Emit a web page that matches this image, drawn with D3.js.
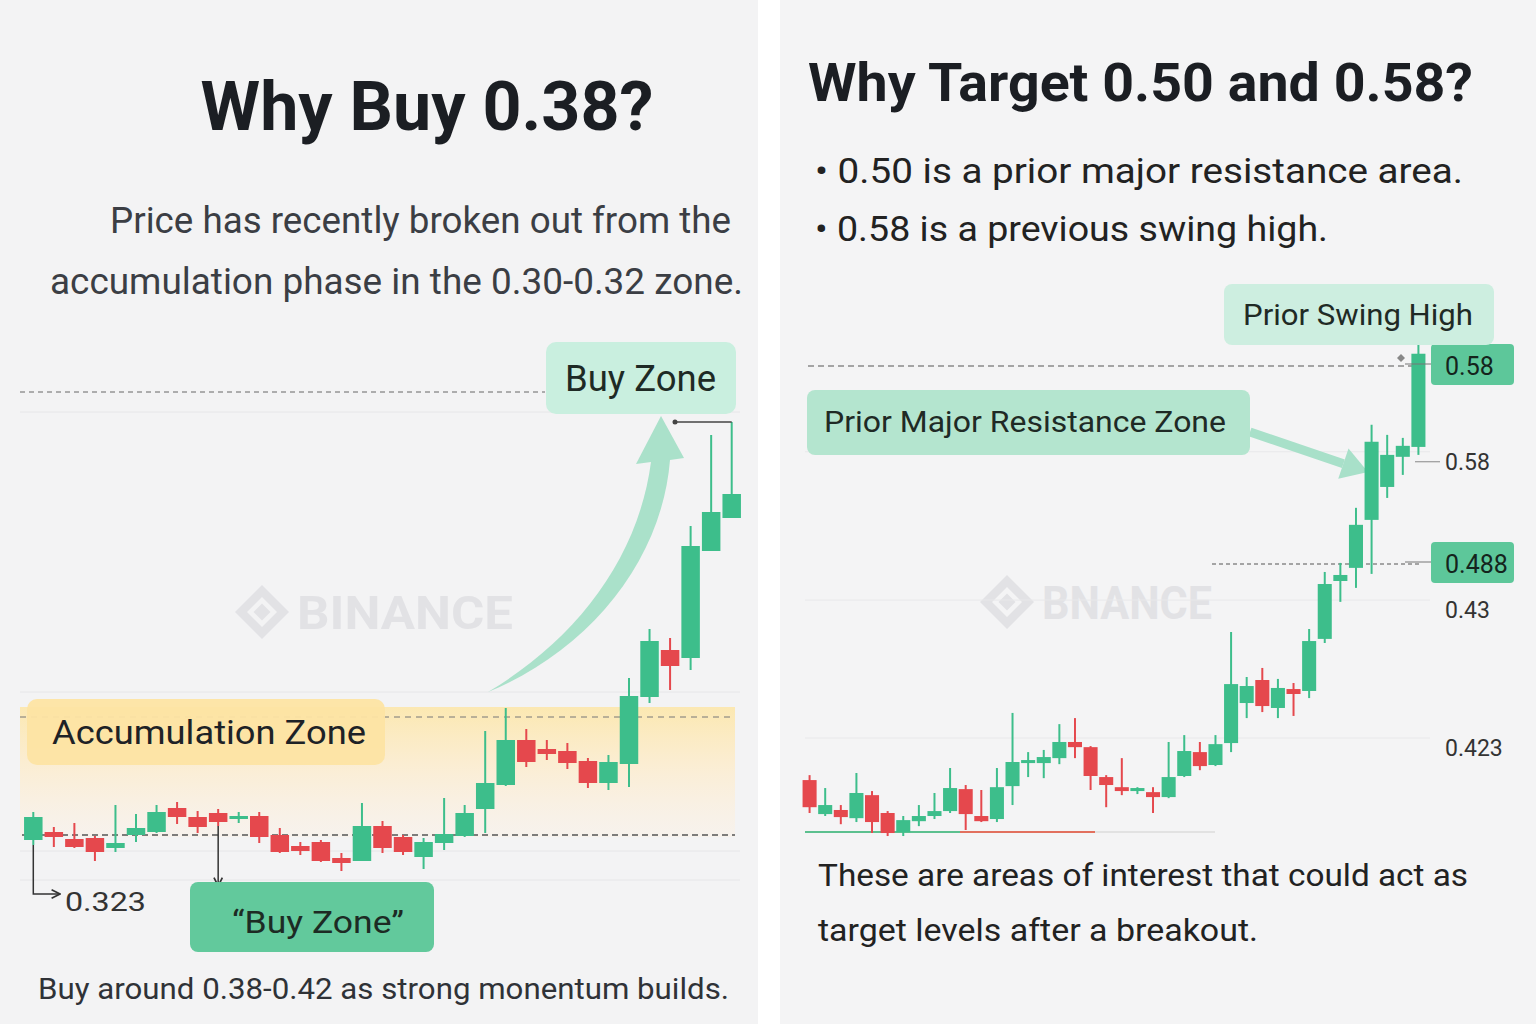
<!DOCTYPE html>
<html>
<head>
<meta charset="utf-8">
<script src="https://cdn.jsdelivr.net/npm/d3@7"></script>
<style>
  body { margin: 0; background: #fff; }
  text { font-family: Roboto, "Noto Sans", sans-serif; }
</style>
</head>
<body>
<script>
// ---- left chart: [open, high, low, close]
var leftCandles = [
  [0.3220, 0.3276, 0.3210, 0.3266], [0.3236, 0.3246, 0.3206, 0.3226], [0.3222, 0.3254, 0.3204, 0.3206],
  [0.3224, 0.3228, 0.3178, 0.3196], [0.3204, 0.3290, 0.3196, 0.3214], [0.3230, 0.3272, 0.3216, 0.3244],
  [0.3236, 0.3290, 0.3234, 0.3276], [0.3284, 0.3296, 0.3252, 0.3266], [0.3266, 0.3278, 0.3234, 0.3246],
  [0.3274, 0.3282, 0.3248, 0.3256], [0.3262, 0.3276, 0.3254, 0.3268], [0.3268, 0.3276, 0.3214, 0.3226],
  [0.3230, 0.3244, 0.3194, 0.3196], [0.3208, 0.3216, 0.3190, 0.3198], [0.3216, 0.3220, 0.3176, 0.3178],
  [0.3184, 0.3194, 0.3158, 0.3174], [0.3178, 0.3294, 0.3178, 0.3248], [0.3248, 0.3258, 0.3194, 0.3204],
  [0.3226, 0.3230, 0.3190, 0.3196], [0.3186, 0.3224, 0.3162, 0.3216], [0.3214, 0.3304, 0.3200, 0.3232],
  [0.3228, 0.3290, 0.3226, 0.3274], [0.3282, 0.3438, 0.3234, 0.3334], [0.3330, 0.3484, 0.3328, 0.3420],
  [0.3420, 0.3442, 0.3366, 0.3376], [0.3402, 0.3420, 0.3380, 0.3392], [0.3398, 0.3414, 0.3362, 0.3374],
  [0.3378, 0.3384, 0.3324, 0.3334], [0.3334, 0.3390, 0.3320, 0.3376], [0.3372, 0.3544, 0.3326, 0.3508],
  [0.3506, 0.3642, 0.3494, 0.3618], [0.3600, 0.3624, 0.3520, 0.3568], [0.3584, 0.3848, 0.3560, 0.3808],
  [0.3798, 0.4030, 0.3798, 0.3876], [0.3864, 0.4056, 0.3864, 0.3912]
];
var leftBuyLevel = 0.4116;
var leftAccumTop = 0.3466;
var leftBase = 0.323;
var leftAccumBand = [0.3226, 0.3486];

// ---- right chart: [open, high, low, close]
var rightCandles = [
  [0.3876, 0.3899, 0.3723, 0.3750], [0.3718, 0.3839, 0.3709, 0.3760], [0.3737, 0.3760, 0.3671, 0.3704],
  [0.3699, 0.3909, 0.3681, 0.3816], [0.3806, 0.3825, 0.3630, 0.3681], [0.3723, 0.3732, 0.3616, 0.3630],
  [0.3634, 0.3709, 0.3616, 0.3690], [0.3685, 0.3760, 0.3662, 0.3709], [0.3709, 0.3816, 0.3695, 0.3732],
  [0.3732, 0.3932, 0.3723, 0.3839], [0.3834, 0.3853, 0.3644, 0.3718], [0.3709, 0.3830, 0.3681, 0.3685],
  [0.3695, 0.3932, 0.3681, 0.3843], [0.3848, 0.4188, 0.3760, 0.3960], [0.3955, 0.4006, 0.3890, 0.3969],
  [0.3955, 0.4016, 0.3885, 0.3983], [0.3978, 0.4136, 0.3950, 0.4053], [0.4053, 0.4164, 0.3978, 0.4029],
  [0.4029, 0.4034, 0.3830, 0.3895], [0.3890, 0.3899, 0.3750, 0.3853], [0.3843, 0.3978, 0.3806, 0.3825],
  [0.3825, 0.3843, 0.3811, 0.3839], [0.3820, 0.3843, 0.3723, 0.3797], [0.3797, 0.4053, 0.3792, 0.3890],
  [0.3895, 0.4085, 0.3890, 0.4011], [0.4006, 0.4053, 0.3922, 0.3941], [0.3946, 0.4085, 0.3941, 0.4043],
  [0.4048, 0.4564, 0.4006, 0.4322], [0.4234, 0.4355, 0.4164, 0.4313], [0.4341, 0.4397, 0.4192, 0.4220],
  [0.4211, 0.4346, 0.4164, 0.4304], [0.4299, 0.4327, 0.4174, 0.4276], [0.4290, 0.4578, 0.4257, 0.4522],
  [0.4532, 0.4843, 0.4513, 0.4787], [0.4801, 0.4885, 0.4704, 0.4829], [0.4862, 0.5141, 0.4769, 0.5062],
  [0.5085, 0.5527, 0.4834, 0.5448], [0.5238, 0.5480, 0.5187, 0.5387], [0.5378, 0.5466, 0.5294, 0.5429],
  [0.5424, 0.5908, 0.5387, 0.5857]
];
var rightLevels = [0.58, 0.488];
var rightLevelLabels = ["0.58", "0.488"];
var rightTickValues = [0.5355, 0.4666, 0.4025];
var rightTickLabels = ["0.58", "0.43", "0.423"];

var GREEN = "#3dbe8b", RED = "#e5484d";

var svg = d3.select("body").append("svg")
  .attr("width", 1536).attr("height", 1024);

var defs = svg.append("defs");
var grad = defs.append("linearGradient").attr("id", "accum").attr("x1", 0).attr("x2", 0).attr("y1", 0).attr("y2", 1);
grad.append("stop").attr("offset", "0%").attr("stop-color", "#fde6a6").attr("stop-opacity", 0.85);
grad.append("stop").attr("offset", "45%").attr("stop-color", "#fdeccb").attr("stop-opacity", 0.8);
grad.append("stop").attr("offset", "100%").attr("stop-color", "#fbf1e6").attr("stop-opacity", 0.5);

defs.append("marker").attr("id", "arr")
  .attr("viewBox", "0 0 10 10").attr("refX", 9).attr("refY", 5)
  .attr("markerWidth", 7).attr("markerHeight", 7).attr("orient", "auto")
  .append("path").attr("d", "M1,1 L9,5 L1,9").attr("fill", "none").attr("stroke", "#333").attr("stroke-width", 1.6);

svg.append("rect").attr("width", 1536).attr("height", 1024).attr("fill", "#ffffff");
svg.append("rect").attr("x", 0).attr("width", 758).attr("height", 1024).attr("fill", "#f3f3f4");
svg.append("rect").attr("x", 780).attr("width", 756).attr("height", 1024).attr("fill", "#f4f4f5");

function txt(g, x, y, s, size, o) {
  o = o || {};
  var t = g.append("text").attr("x", x).attr("y", y).text(s)
    .attr("font-size", size)
    .attr("fill", o.fill || "#222")
    .attr("font-weight", o.weight || 400)
    .attr("text-anchor", o.anchor || "start");
  if (o.len) t.attr("textLength", o.len).attr("lengthAdjust", "spacingAndGlyphs");
  return t;
}

function watermark(g, x, y, word) {
  var w = g.append("g").attr("transform", "translate(" + x + "," + y + ")").attr("fill", "#e2e2e5");
  w.append("path").attr("d", "M0,-27 L27,0 L0,27 L-27,0 Z M0,-15 L-15,0 L0,15 L15,0 Z")
    .attr("fill-rule", "evenodd");
  w.append("rect").attr("x", -6).attr("y", -6).attr("width", 12).attr("height", 12)
    .attr("transform", "rotate(45)");
  txt(w, 35, 17, word, 46, { fill: "#e2e2e5", weight: 700, len: word.length === 7 ? 216 : 170 });
}

function drawCandles(g, data, x, y) {
  var bw = x.bandwidth();
  var c = g.selectAll("g.c").data(data).enter().append("g").attr("class", "c");
  c.append("line")
    .attr("x1", function (d, i) { return x(i) + bw / 2; })
    .attr("x2", function (d, i) { return x(i) + bw / 2; })
    .attr("y1", function (d) { return y(d[1]); })
    .attr("y2", function (d) { return y(d[2]); })
    .attr("stroke", function (d) { return d[3] >= d[0] ? GREEN : RED; })
    .attr("stroke-width", 2);
  c.append("rect")
    .attr("x", function (d, i) { return x(i); })
    .attr("width", bw)
    .attr("y", function (d) { return Math.min(y(d[0]), y(d[3])); })
    .attr("height", function (d) { return Math.max(3, Math.abs(y(d[0]) - y(d[3]))); })
    .attr("fill", function (d) { return d[3] >= d[0] ? GREEN : RED; });
}

// =================== LEFT PANEL ===================
var L = svg.append("g");
txt(L, 427, 130, "Why Buy 0.38?", 68, { weight: 700, anchor: "middle", fill: "#1b1e23", len: 453 });
txt(L, 110, 233, "Price has recently broken out from the", 36, { fill: "#3b3e44", len: 621 });
txt(L, 50, 294, "accumulation phase in the 0.30-0.32 zone.", 36, { fill: "#3b3e44", len: 693 });

var xL = d3.scaleBand().domain(d3.range(leftCandles.length)).range([22, 743]).padding(0.1);
var yL = d3.scaleLinear().domain([leftBase, leftBuyLevel]).range([835, 392]);

watermark(L, 262, 612, "BINANCE");

// faint grid
[0.4076, 0.3516, 0.3198, 0.314].forEach(function (v) {
  L.append("line").attr("x1", 20).attr("x2", 740).attr("y1", yL(v)).attr("y2", yL(v))
    .attr("stroke", "#e6e6e8").attr("stroke-width", 1);
});

// accumulation band
L.append("rect").attr("x", 20).attr("width", 715)
  .attr("y", yL(leftAccumBand[1])).attr("height", yL(leftAccumBand[0]) - yL(leftAccumBand[1]))
  .attr("fill", "url(#accum)");

L.append("line").attr("x1", 20).attr("x2", 545).attr("y1", yL(leftBuyLevel)).attr("y2", yL(leftBuyLevel))
  .attr("stroke", "#666").attr("stroke-dasharray", "5,4").attr("stroke-width", 1);
L.append("line").attr("x1", 20).attr("x2", 735).attr("y1", yL(leftAccumTop)).attr("y2", yL(leftAccumTop))
  .attr("stroke", "#777").attr("stroke-dasharray", "6,5").attr("stroke-width", 1);
L.append("line").attr("x1", 22).attr("x2", 735).attr("y1", yL(leftBase)).attr("y2", yL(leftBase))
  .attr("stroke", "#555").attr("stroke-dasharray", "6,4").attr("stroke-width", 1.3);

// curved arrow
L.append("path")
  .attr("d", "M488,692 C575,640 638,560 651,462 L636,464 L661,416 L684,458 L670,460 C662,560 590,650 488,692 Z")
  .attr("fill", "#a5dfc7").attr("opacity", 0.95);

drawCandles(L, leftCandles, xL, yL);

// annotation lines
var c0 = xL(0) + xL.bandwidth() / 2;
L.append("path").attr("d", "M" + c0 + "," + yL(0.321) + " V894 H60")
  .attr("fill", "none").attr("stroke", "#333").attr("stroke-width", 1.5).attr("marker-end", "url(#arr)");
txt(L, 65, 911, "0.323", 26, { fill: "#333", len: 81 });

var c9 = xL(9) + xL.bandwidth() / 2;
L.append("line").attr("x1", c9).attr("x2", c9).attr("y1", yL(0.3248)).attr("y2", 886)
  .attr("stroke", "#333").attr("stroke-width", 1.5).attr("marker-end", "url(#arr)");

var c34 = xL(34) + xL.bandwidth() / 2;
L.append("path").attr("d", "M" + c34 + "," + yL(0.4056) + " H675")
  .attr("fill", "none").attr("stroke", "#444").attr("stroke-width", 1.5);
L.append("circle").attr("cx", 675).attr("cy", yL(0.4056)).attr("r", 2.5).attr("fill", "#444");

// labels
L.append("rect").attr("x", 546).attr("y", 342).attr("width", 190).attr("height", 72).attr("rx", 10).attr("fill", "#c9efdf");
txt(L, 565, 391, "Buy Zone", 36, { fill: "#1e2a25", len: 151 });

L.append("rect").attr("x", 27).attr("y", 699).attr("width", 358).attr("height", 66).attr("rx", 10)
  .attr("fill", "#fde4a3").attr("opacity", 0.95);
txt(L, 52, 744, "Accumulation Zone", 34, { fill: "#1e2226", len: 314 });

L.append("rect").attr("x", 190).attr("y", 882).attr("width", 244).attr("height", 70).attr("rx", 8).attr("fill", "#62c99c");
txt(L, 318, 933, "\u201cBuy Zone\u201d", 32, { fill: "#1d2b24", anchor: "middle", len: 172 });

txt(L, 38, 999, "Buy around 0.38-0.42 as strong monentum builds.", 29, { fill: "#2f3237", len: 691 });

// =================== RIGHT PANEL ===================
var R = svg.append("g");
txt(R, 808, 101, "Why Target 0.50 and 0.58?", 54, { weight: 700, fill: "#1b1e23", len: 665 });
txt(R, 815, 183, "\u2022 0.50 is a prior major resistance area.", 35, { fill: "#222", len: 648 });
txt(R, 815, 241, "\u2022 0.58 is a previous swing high.", 35, { fill: "#222", len: 513 });

var xR = d3.scaleBand().domain(d3.range(rightCandles.length)).range([801, 1427]).padding(0.1);
var yR = d3.scaleLinear().domain([rightLevels[1], rightLevels[0]]).range([564, 366]);

watermark(R, 1007, 602, "BNANCE");

// faint grid at ticks
rightTickValues.forEach(function (v) {
  R.append("line").attr("x1", 805).attr("x2", 1430).attr("y1", yR(v) - 10).attr("y2", yR(v) - 10)
    .attr("stroke", "#e8e8ea").attr("stroke-width", 1);
});

// level lines
R.append("line").attr("x1", 808).attr("x2", 1420).attr("y1", yR(rightLevels[0])).attr("y2", yR(rightLevels[0]))
  .attr("stroke", "#555").attr("stroke-dasharray", "6,4").attr("stroke-width", 1);
R.append("line").attr("x1", 1212).attr("x2", 1420).attr("y1", yR(rightLevels[1])).attr("y2", yR(rightLevels[1]))
  .attr("stroke", "#555").attr("stroke-dasharray", "4,3").attr("stroke-width", 1);

// baseline strip
[[805, 960, "#5cc08f"], [960, 1095, "#e2705e"], [1095, 1215, "#e2e2e2"]].forEach(function (s) {
  R.append("line").attr("x1", s[0]).attr("x2", s[1]).attr("y1", 832).attr("y2", 832)
    .attr("stroke", s[2]).attr("stroke-width", 2);
});

// arrow to resistance
var ax0 = 1250, ay0 = 432, ax1 = 1368, ay1 = 472;
var ang = Math.atan2(ay1 - ay0, ax1 - ax0);
var hl = 26, hw = 16;
var bx = ax1 - hl * Math.cos(ang), by = ay1 - hl * Math.sin(ang);
R.append("line").attr("x1", ax0).attr("y1", ay0).attr("x2", bx).attr("y2", by)
  .attr("stroke", "#a8e0c9").attr("stroke-width", 9);
R.append("path").attr("d", "M" + ax1 + "," + ay1 +
    " L" + (bx - hw * Math.sin(ang)) + "," + (by + hw * Math.cos(ang)) +
    " L" + (bx + hw * Math.sin(ang)) + "," + (by - hw * Math.cos(ang)) + " Z")
  .attr("fill", "#a8e0c9");

drawCandles(R, rightCandles, xR, yR);

// axis
var axisR = d3.axisRight(yR).tickValues(rightTickValues)
  .tickFormat(function (d, i) { return rightTickLabels[i]; })
  .tickSize(0).tickPadding(0);
var ag = R.append("g").attr("transform", "translate(1445,0)").call(axisR);
ag.select(".domain").remove();
ag.selectAll("text").attr("font-size", 23).attr("fill", "#333")
  .attr("font-family", "Roboto, 'Noto Sans', sans-serif").attr("dy", "0.32em");
R.append("line").attr("x1", 1415).attr("x2", 1440).attr("y1", yR(rightTickValues[0])).attr("y2", yR(rightTickValues[0]))
  .attr("stroke", "#888").attr("stroke-width", 1);

// level tags
rightLevels.forEach(function (v, i) {
  var yy = yR(v);
  R.append("rect").attr("x", 1431).attr("y", yy - 22).attr("width", 83).attr("height", 41).attr("rx", 4).attr("fill", "#5dc79a");
  txt(R, 1445, yy + 9, rightLevelLabels[i], 25, { fill: "#14241c" });
  R.append("line").attr("x1", 1405).attr("x2", 1431).attr("y1", yy - 2).attr("y2", yy - 2)
    .attr("stroke", "#777").attr("stroke-width", 1);
});
R.append("path").attr("d", "M1401,354 L1405,358 L1401,362 L1397,358 Z").attr("fill", "#888");

R.append("rect").attr("x", 1224).attr("y", 284).attr("width", 270).attr("height", 61).attr("rx", 8).attr("fill", "#cdeee0");
txt(R, 1243, 325, "Prior Swing High", 29, { fill: "#1f2a25", len: 230 });

R.append("rect").attr("x", 807).attr("y", 390).attr("width", 443).attr("height", 65).attr("rx", 8).attr("fill", "#b4e5cf");
txt(R, 824, 432, "Prior Major Resistance Zone", 29, { fill: "#1f2a25", len: 402 });

txt(R, 818, 886, "These are areas of interest that could act as", 31, { fill: "#222", len: 650 });
txt(R, 818, 941, "target levels after a breakout.", 31, { fill: "#222", len: 440 });
</script>
</body>
</html>
